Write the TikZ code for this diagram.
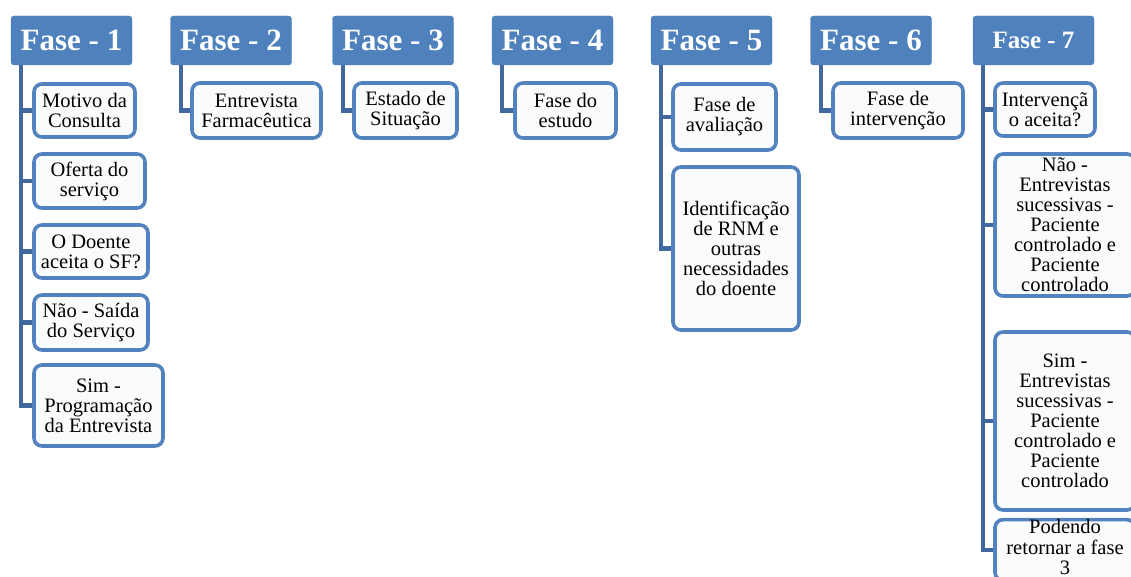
\documentclass[tikz,border=0pt]{standalone}
\usepackage{fontspec}
\setmainfont{Liberation Serif}
\usetikzlibrary{backgrounds}
\definecolor{headblue}{HTML}{4F81BD}
\definecolor{edgeblue}{HTML}{5283BF}
\definecolor{linkblue}{HTML}{41699E}
\definecolor{paper}{HTML}{FAFBFC}
\tikzset{
  phase/.style={fill=headblue, draw=headblue, rounded corners=3pt, text=white,
    font=\fontsize{31}{33}\selectfont\bfseries, inner sep=0pt,
    minimum width=121pt, minimum height=49pt},
  item/.style={draw=edgeblue, line width=3.6pt, fill=paper, rounded corners=8pt,
    align=center, inner sep=0pt, font=\fontsize{20.5}{20}\selectfont},
  link/.style={draw=linkblue, line width=4.2pt}
}
\newcommand{\itm}[6]{\node[item, minimum width=#4pt, minimum height=#5pt] (#1) at (#2,#3) {#6};}
\begin{document}
\begin{tikzpicture}[x=1pt,y=-1pt]
\useasboundingbox (0,0) rectangle (1131,577);
\clip (0,0) rectangle (1131,577);
% phase headers
\node[phase] (h1) at (71.5,40.5) {Fase - 1};
\node[phase] (h2) at (231,40.5) {Fase - 2};
\node[phase] (h3) at (393,40.5) {Fase - 3};
\node[phase] (h4) at (552.5,40.5) {Fase - 4};
\node[phase] (h5) at (711.5,40.5) {Fase - 5};
\node[phase] (h6) at (871,40.5) {Fase - 6};
\node[phase, font=\fontsize{25}{27}\selectfont\bfseries] (h7) at (1033.5,40.5) {Fase - 7};
% trunk start below each header
\foreach \h in {h1,h2,h3,h4,h5,h6,h7}
  \coordinate (\h t) at ([xshift=10.5pt]\h.south west);
% Fase 1
\itm{c11}{84.5}{110.5}{101}{53}{Motivo da\\Consulta}
\itm{c12}{89.5}{181}{111}{54}{Oferta do\\serviço}
\itm{c13}{91}{251.5}{114}{53}{O Doente\\aceita o SF?}
\itm{c14}{91}{322.5}{114}{55}{Não - Saída\\do Serviço}
\itm{c15}{98.5}{405.5}{129}{81}{Sim -\\Programação\\da Entrevista}
% Fase 2-4
\itm{c21}{256.5}{110.5}{129}{55}{Entrevista\\Farmacêutica}
\itm{c31}{405.5}{110.5}{103}{55}{Estado de\\Situação}
\itm{c41}{565.5}{110.5}{101}{55}{Fase do\\estudo}
% Fase 5
\itm{c51}{724.5}{117}{103}{66}{Fase de\\avaliação}
\itm{c52}{736}{248.5}{126}{163}{Identificação\\de RNM e\\outras\\necessidades\\do doente}
% Fase 6
\itm{c61}{898}{110.5}{130}{55}{Fase de\\intervenção}
% Fase 7
\itm{c71}{1045}{109.5}{100}{53}{Intervençã\\o aceita?}
\itm{c72}{1065}{225}{140}{142}{Não -\\Entrevistas\\sucessivas -\\Paciente\\controlado e\\Paciente\\controlado}
\itm{c73}{1065}{421}{140}{178}{Sim -\\Entrevistas\\sucessivas -\\Paciente\\controlado e\\Paciente\\controlado}
\itm{c74}{1065}{550}{140}{52}{\raisebox{-6pt}{\begin{tabular}{@{}c@{}}Podendo\\retornar a fase\\3\end{tabular}}}
% connectors from each trunk to its boxes
\begin{scope}[on background layer]
\foreach \h/\c in {h1/c11, h1/c12, h1/c13, h1/c14, h1/c15,
                   h2/c21, h3/c31, h4/c41,
                   h5/c51, h5/c52, h6/c61,
                   h7/c71, h7/c72, h7/c73, h7/c74}
  \draw[link] (\h t) |- (\c.west);
\end{scope}
\end{tikzpicture}
\end{document}
